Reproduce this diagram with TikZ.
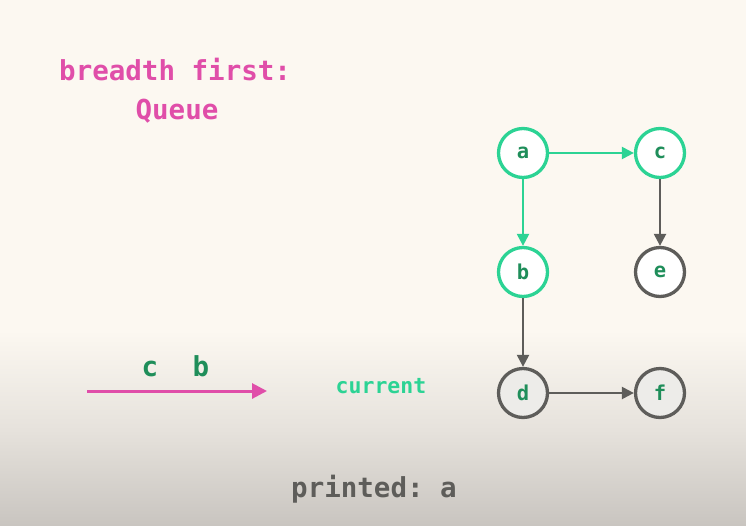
\documentclass[tikz,border=0pt]{standalone}
\usepackage{fontspec}
\setmonofont{DejaVu Sans Mono}
\usetikzlibrary{arrows.meta}
\definecolor{paper}{HTML}{FCF8F1}
\definecolor{papermid}{HTML}{E6E2DC}
\definecolor{paperlow}{HTML}{C9C5C0}
\definecolor{mint}{HTML}{2CD394}
\definecolor{leaf}{HTML}{1F8E5A}
\definecolor{slate}{HTML}{5E5D5A}
\definecolor{rose}{HTML}{E04EA9}
\definecolor{softfill}{HTML}{EDECE9}
\begin{document}
\begin{tikzpicture}[x=1pt,y=-1pt,
  txt/.style={font=\ttfamily\bfseries\fontsize{#1}{#1}\selectfont, inner sep=0pt},
  vert/.style={circle, minimum size=49pt, inner sep=0pt, line width=3.3pt, fill=white,
    text=leaf, font=\ttfamily\bfseries\fontsize{20.5}{20.5}\selectfont},
  seen/.style={vert, draw=mint},
  unseen/.style={vert, draw=slate},
  link/.style={line width=2.3pt, -{Triangle[length=12pt,width=12pt]}},
  greenlink/.style={link, draw=mint, fill=mint},
  greylink/.style={link, draw=slate, fill=slate}]
% background with darker lower band
\fill[paper] (0,0) rectangle (746,525);
\shade[top color=paper, bottom color=papermid] (0,330) rectangle (746,430);
\shade[top color=papermid, bottom color=paperlow] (0,429.5) rectangle (746,525);
\useasboundingbox (0,0) rectangle (746,525);

% headings
\node[txt=27.5, text=rose, anchor=base west] (title) at (59,80) {breadth first:};
\node[txt=27.5, text=rose, anchor=base] (kind) at (177,119) {Queue};

% graph
\node[seen] (a) at (523,153) {a};
\node[seen] (c) at (660,153) {c};
\node[seen] (b) at (523,272) {b};
\node[unseen] (e) at (660,272) {e};
\node[unseen, fill=softfill] (d) at (523,393) {d};
\node[unseen, fill=softfill] (f) at (660,393) {f};

\draw[greenlink] (a) -- (c);
\draw[greenlink] (a) -- (b);
\draw[greylink] (c) -- (e);
\draw[greylink] (b) -- (d);
\draw[greylink] (d) -- (f);

% queue contents
\coordinate (qstart) at (87,391);
\coordinate (qend) at (267,391);
\draw[line width=3pt, draw=rose, -{Triangle[length=15pt,width=15pt]}] (qstart) -- (qend);
\node[txt=27.5, text=leaf, anchor=base] (qc) at (150,376) {c};
\node[txt=27.5, text=leaf, anchor=base] (qb) at (201,376) {b};

\node[txt=21.5, text=mint, anchor=base] (cur) at (381,393) {current};

% output so far
\node[txt=27.5, text=slate, anchor=base] (out) at (374,497) {printed: a};
\end{tikzpicture}
\end{document}
